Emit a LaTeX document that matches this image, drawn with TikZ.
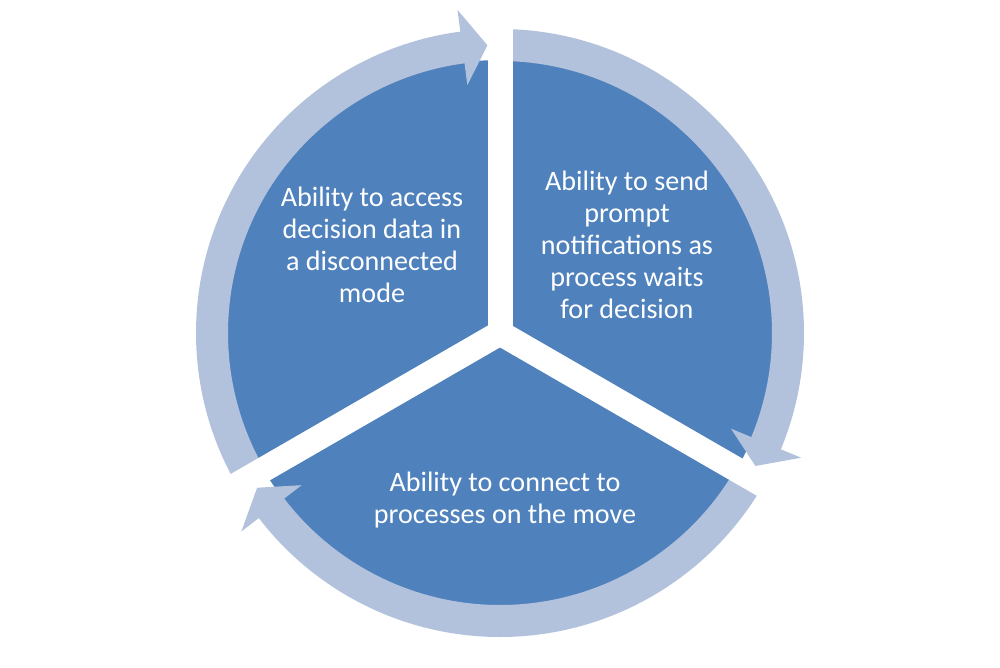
\documentclass[tikz,border=0pt]{standalone}
\usepackage{fontspec}
\setmainfont{Carlito}
\definecolor{pieblue}{RGB}{79,129,189}
\definecolor{ringblue}{RGB}{179,194,220}
\begin{document}
\begin{tikzpicture}[x=0.02cm, y=0.02cm,
    label text/.style={text=white, align=center, font=\fontsize{16}{18.2}\selectfont, inner sep=0pt},
    gap band/.style={white, line width=0.5cm}]
    \useasboundingbox (0,0) rectangle (1000,667);

    \begin{scope}[shift={(500,334)}]
    % pie
    \fill[pieblue] (0,0) circle[radius=273];

    % arrow from lower left up to the top
    \fill[ringblue] (210:304) arc[start angle=210, end angle=97.5, radius=304]
        -- (97.5:326) -- (92.5:288) -- (97.5:250) -- (97.5:272)
        arc[start angle=97.5, end angle=210, radius=272] -- cycle;

    % arrow from the top down to the right
    \fill[ringblue] (90:304) arc[start angle=90, end angle=-22.5, radius=304]
        -- (-22.5:326) -- (-27.5:288) -- (-22.5:250) -- (-22.5:272)
        arc[start angle=-22.5, end angle=90, radius=272] -- cycle;

    % arrow along the bottom
    \fill[ringblue] (-30:304) arc[start angle=-30, end angle=-142.5, radius=304]
        -- (-142.5:326) -- (-147.5:288) -- (-142.5:250) -- (-142.5:272)
        arc[start angle=-142.5, end angle=-30, radius=272] -- cycle;

    % white gaps
    \draw[gap band] (0,0) -- (90:345);
    \draw[gap band] (0,0) -- (210:345);
    \draw[gap band] (0,0) -- (330:345);
    \end{scope}

    \node[label text] (access) at (372,422) {Ability to access\\decision data in\\a disconnected\\mode};
    \node[label text] (notify) at (627,422) {Ability to send\\prompt\\notifications as\\process waits\\for decision};
    \node[label text] (connect) at (505,167) {Ability to connect to\\processes on the move};
\end{tikzpicture}
\end{document}
